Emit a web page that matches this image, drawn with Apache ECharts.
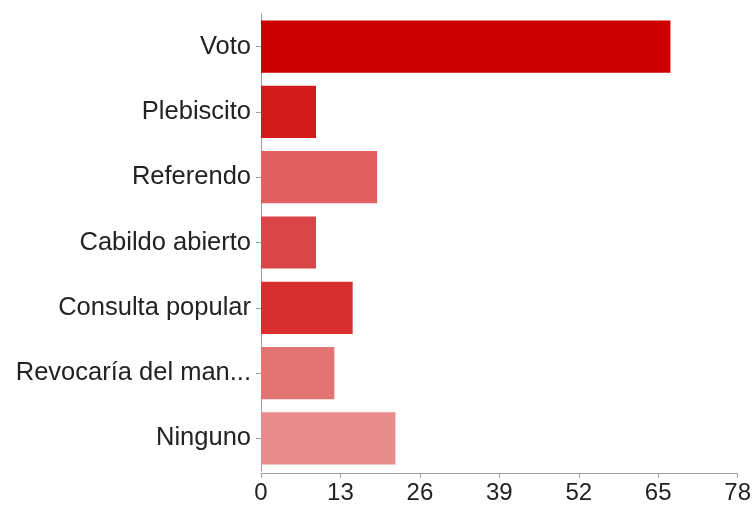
<!DOCTYPE html>
<html>
<head>
<meta charset="utf-8">
<script src="https://cdn.jsdelivr.net/npm/echarts@6/dist/echarts.min.js"></script>
<style>
html,body{margin:0;padding:0;background:#fff;}
#chart{width:754px;height:508px;}
</style>
</head>
<body>
<div id="chart"></div>
<script>
const categories = ["Voto", "Plebiscito", "Referendo", "Cabildo abierto", "Consulta popular", "Revocaría del man...", "Ninguno"];
const values = [67, 9, 19, 9, 15, 12, 22];
const xTicks = [0, 13, 26, 39, 52, 65, 78];
const barColors = ["#cc0000", "#d31a1b", "#df6060", "#da4547", "#d72e30", "#e37474", "#e98c8c"];

const chart = echarts.init(document.getElementById('chart'));
chart.setOption({
  animation: false,
  backgroundColor: '#ffffff',
  grid: { left: 261, right: 15, top: 14, bottom: 37, containLabel: false },
  xAxis: {
    type: 'value',
    min: xTicks[0],
    max: xTicks[xTicks.length - 1],
    interval: xTicks[1] - xTicks[0],
    offset: 2,
    axisLine: { show: true, lineStyle: { color: '#a0a0a0', width: 1 } },
    axisTick: { show: true, length: 5, lineStyle: { color: '#a0a0a0' } },
    splitLine: { show: false },
    axisLabel: { color: '#222', fontSize: 24, fontFamily: 'Liberation Sans, Arial, sans-serif', margin: 8 }
  },
  yAxis: {
    type: 'category',
    inverse: true,
    data: categories,
    axisLine: { show: true, onZero: false, lineStyle: { color: '#a0a0a0', width: 1 } },
    axisTick: { show: true, length: 5, alignWithLabel: true, lineStyle: { color: '#a0a0a0' } },
    axisLabel: { color: '#222', fontSize: 25.5, fontFamily: 'Liberation Sans, Arial, sans-serif', margin: 10 }
  },
  series: [{
    type: 'bar',
    data: values.map((v, i) => ({ value: v, itemStyle: { color: barColors[i] } })),
    barCategoryGap: '20%'
  }]
});
</script>
</body>
</html>
